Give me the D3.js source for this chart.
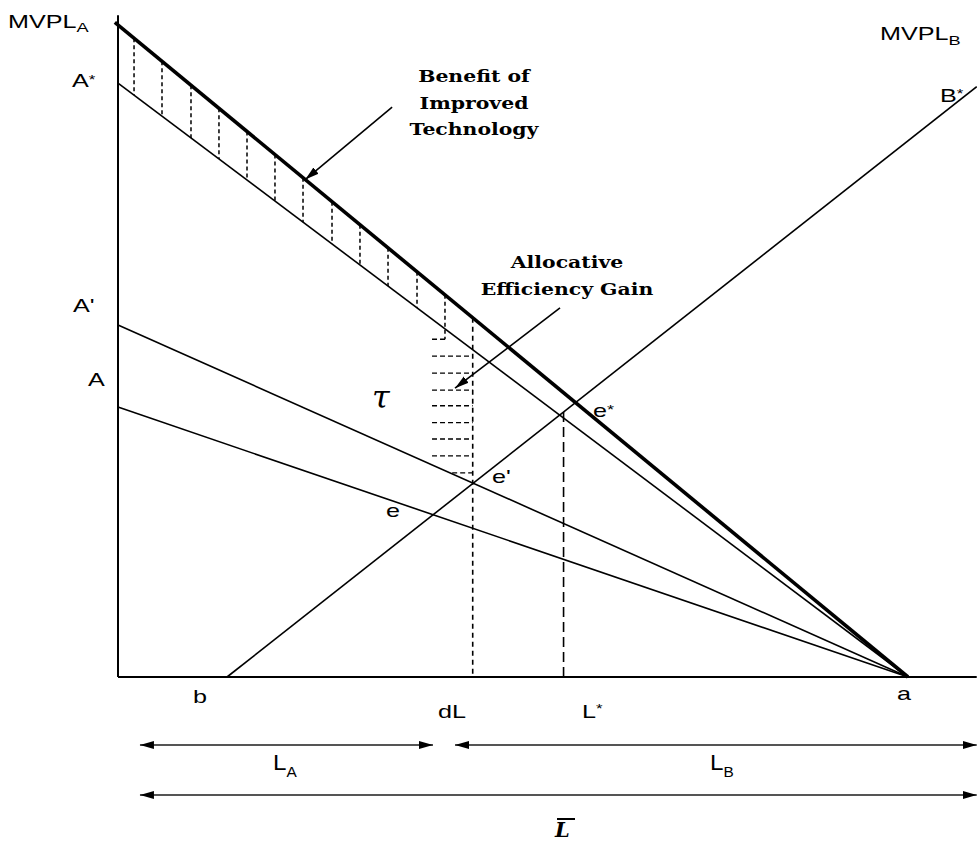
<!DOCTYPE html>
<html><head><meta charset="utf-8">
<script src="https://cdn.jsdelivr.net/npm/d3@7"></script>
<style>body{margin:0;background:#fff}</style>
</head><body><svg id="chart" width="977" height="841"></svg>
<script>
// ---------------- data (diagram units) ----------------
const xA = 100;            // point a : x-intercept of all MVPL_A curves
const xMax = 108.7;        // right end of horizontal axis
const yMax = 101.5;        // top of vertical axis
const curveNames = ["MVPL_A", "A*", "A'", "A"];
const curveIntercepts = [100, 91.1, 54.0, 41.4];
const bIntercept = 13.8;   // point b : MVPL_B starts here
const bSlope = 0.954;      // slope of MVPL_B
const dL = 44.9;
const Lstar = 56.4;
const techHatchX = [2.03, 5.57, 9.24, 12.78, 16.33, 19.87, 23.42, 27.09, 30.63, 34.18, 37.85, 41.39];
const allocHatchY = [51.8, 49.2, 46.6, 44.0, 41.6, 39.0, 36.5, 33.9, 31.3];
const allocHatchLeft = [39.75, 39.75, 39.75, 39.75, 39.75, 39.75, 39.75, 39.75, 42.3];
const allocHatchRight = [41.6, 44.9, 44.9, 44.9, 44.9, 44.9, 44.9, 44.9, 44.9];
const xLabels = ["b", "dL", "L*", "a"];
const xLabelValues = [13.8, 44.9, 56.4, 100];
const spanNames = ["L_A", "L_B", "L̄"];
const spanStarts = [2.78, 42.66, 2.78];
const spanEnds = [39.87, 108.7, 108.7];

// ---------------- scales ----------------
const x = d3.scaleLinear().domain([0, 100]).range([118, 908]);
const y = d3.scaleLinear().domain([0, 100]).range([677, 25]);
const svg = d3.select("#chart");
svg.append("rect").attr("width", 977).attr("height", 841).attr("fill", "#fff");

const curve = (i, xv) => curveIntercepts[i] * (1 - xv / xA);
const mvplB = xv => bSlope * (xv - bIntercept);
const line = d3.line().x(d => x(d[0])).y(d => y(d[1]));

const defs = svg.append("defs");
function marker(id, orient) {
  defs.append("marker").attr("id", id).attr("viewBox", "0 0 14 10")
    .attr("refX", 14).attr("refY", 5).attr("markerWidth", 14).attr("markerHeight", 10)
    .attr("markerUnits", "userSpaceOnUse").attr("orient", orient)
    .append("path").attr("d", "M0,1 L14,5 L0,9 Z").attr("fill", "#000");
}
marker("ah", "auto");
marker("ahs", "auto-start-reverse");

// axes
svg.append("path").attr("d", line([[0, 0], [0, yMax]])).attr("stroke", "#000").attr("stroke-width", 2).attr("fill", "none");
svg.append("path").attr("d", line([[0, 0], [xMax, 0]])).attr("stroke", "#000").attr("stroke-width", 2.2).attr("fill", "none");

// MVPL_A family
curveIntercepts.forEach((c, i) => {
  const x0 = i === 0 ? -0.4 : 0;
  svg.append("path").attr("d", line([[x0, curve(i, x0)], [xA, 0]]))
    .attr("stroke", "#000").attr("stroke-width", i === 0 ? 3.6 : 1.6).attr("fill", "none");
});
// MVPL_B
svg.append("path").attr("d", line([[bIntercept, 0], [xMax, mvplB(xMax)]]))
  .attr("stroke", "#000").attr("stroke-width", 1.6).attr("fill", "none");

// technology hatch (vertical dashes)
techHatchX.forEach(hx => {
  const bottom = hx >= allocHatchLeft[0] ? allocHatchY[0] : curve(1, hx);
  svg.append("path").attr("d", line([[hx, curve(0, hx)], [hx, bottom]]))
    .attr("stroke", "#000").attr("stroke-width", 1.5).attr("stroke-dasharray", "4,3").attr("fill", "none");
});
// allocative hatch (horizontal dashes)
allocHatchY.forEach((hy, i) => {
  svg.append("path").attr("d", line([[allocHatchLeft[i], hy], [allocHatchRight[i], hy]]))
    .attr("stroke", "#000").attr("stroke-width", 1.3).attr("stroke-dasharray", "5,3").attr("fill", "none");
});
// dL and L* verticals
svg.append("path").attr("d", line([[dL, curve(0, dL)], [dL, 0]]))
  .attr("stroke", "#000").attr("stroke-width", 1.6).attr("stroke-dasharray", "5,4").attr("fill", "none");
svg.append("path").attr("d", line([[Lstar, mvplB(Lstar)], [Lstar, 0]]))
  .attr("stroke", "#000").attr("stroke-width", 1.6).attr("stroke-dasharray", "10,5").attr("fill", "none");

// pointer arrows
svg.append("path").attr("d", line([[34.7, 87.4], [23.7, curve(0, 23.7)]]))
  .attr("stroke", "#000").attr("stroke-width", 1.6).attr("fill", "none").attr("marker-end", "url(#ah)");
svg.append("path").attr("d", line([[55.95, 56.6], [42.66, 44.3]]))
  .attr("stroke", "#000").attr("stroke-width", 1.6).attr("fill", "none").attr("marker-end", "url(#ah)");

// span arrows
const spanRows = [745, 745, 795];
spanNames.forEach((n, i) => {
  svg.append("line").attr("x1", x(spanStarts[i])).attr("x2", x(spanEnds[i]))
    .attr("y1", spanRows[i]).attr("y2", spanRows[i])
    .attr("stroke", "#555").attr("stroke-width", 2)
    .attr("marker-start", "url(#ahs)").attr("marker-end", "url(#ah)");
});

// ---------------- text ----------------
const SANS = "'Liberation Sans', Arial, sans-serif";
const SERIF = "'DejaVu Serif', serif";
function label(parts, px, py, o = {}) {
  const g = svg.append("g").attr("transform", `translate(${px},${py}) scale(${o.sx ?? 1.4},1)`);
  const t = g.append("text").attr("font-family", o.family || SANS).attr("font-size", o.size || 18)
    .attr("text-anchor", o.anchor || "start").attr("fill", "#000");
  if (o.weight) t.attr("font-weight", o.weight);
  if (o.style) t.attr("font-style", o.style);
  parts.forEach(p => {
    if (typeof p === "string") { t.append("tspan").text(p).attr("dy", 0); }
    else t.append("tspan").text(p.t).attr("font-size", p.size).attr("dy", p.dy);
  });
  return t;
}
// y-axis labels
label(["MVPL", {t: "A", size: 13, dy: 4}], 8, 28);
label(["A", {t: "*", size: 12, dy: -3}], 72, y(curveIntercepts[1]) + 4);
label(["A'"], 73, y(curveIntercepts[2]) - 13);
label(["A"], 88, y(curveIntercepts[3]) - 21);
label(["MVPL", {t: "B", size: 13, dy: 5}], 880, 40);
label(["B", {t: "*", size: 12, dy: -4}], 940, 102);
// equilibrium labels
label(["e", {t: "*", size: 13, dy: -3}], 593, 417);
label(["e'"], 492, 483);
label(["e"], 386, 517);
// x labels
const xLabelPos = [[193, 703], [438, 718], [582, 718], [897, 700]];
xLabels.forEach((s, i) => {
  if (s === "L*") label(["L", {t: "*", size: 12, dy: -5}], xLabelPos[i][0], xLabelPos[i][1]);
  else label([s], xLabelPos[i][0], xLabelPos[i][1]);
});
// span labels
label(["L", {t: "A", size: 14, dy: 7}], 273, 770, {size: 22, sx: 1.1});
label(["L", {t: "B", size: 14, dy: 7}], 710, 770, {size: 22, sx: 1.1});
label(["L"], 555, 837, {family: SERIF, style: "italic", weight: "bold", size: 21, sx: 1.0});
svg.append("line").attr("x1", 557).attr("x2", 575).attr("y1", 819).attr("y2", 819).attr("stroke", "#000").attr("stroke-width", 2);

// annotations
["Benefit of", "Improved", "Technology"].forEach((s, i) =>
  label([s], 474, 82 + i * 26.5, {family: SERIF, weight: "bold", size: 17, sx: 1.2, anchor: "middle"}));
["Allocative", "Efficiency Gain"].forEach((s, i) =>
  label([s], 567, 268 + i * 27, {family: SERIF, weight: "bold", size: 17, sx: 1.2, anchor: "middle"}));
label(["τ"], 372, 408, {family: SERIF, style: "italic", size: 32, sx: 1.0});
</script></body></html>
